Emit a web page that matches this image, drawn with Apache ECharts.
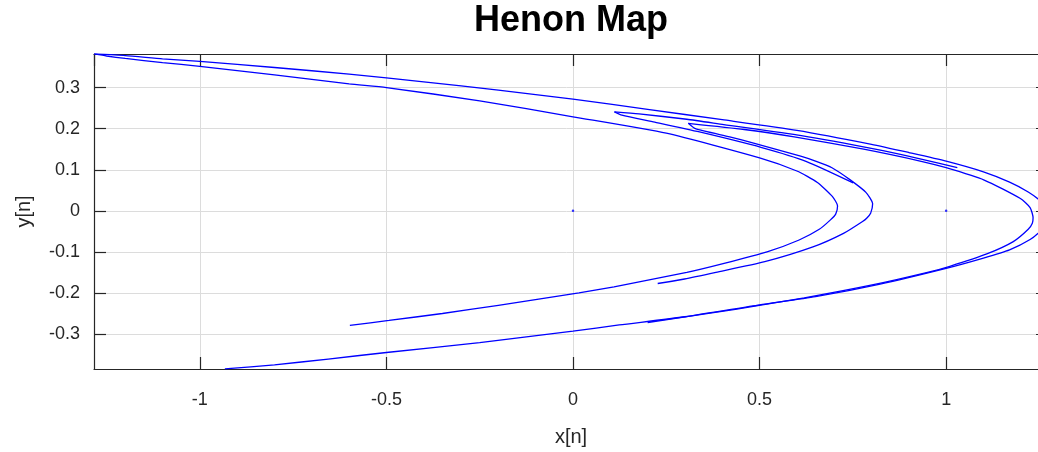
<!DOCTYPE html>
<html>
<head>
<meta charset="utf-8">
<title>Henon Map</title>
<script src="https://cdn.jsdelivr.net/npm/echarts@6/dist/echarts.min.js"></script>
<style>
html, body { margin: 0; padding: 0; background: #fff; }
#main { width: 1038px; height: 452px; }
</style>
</head>
<body>
<div id="main"></div>
<script>
// axis limits (tight to the attractor)
var xMin = -1.2837, xMax = 1.273
var yMin = -0.3852, yMax = 0.3819

// strands of the attractor as [x, y]
var outerCurve = [
  [-1.283, 0.382], [-1.2, 0.378], [-1.1, 0.370], [-1.0, 0.364], [-0.8, 0.349],
  [-0.6, 0.333], [-0.4, 0.314], [-0.2, 0.294], [0.0, 0.272], [0.2, 0.247],
  [0.4, 0.222], [0.6, 0.196], [0.8, 0.162], [0.9, 0.142], [1.0, 0.121],
  [1.1, 0.095], [1.17, 0.070], [1.22, 0.046], [1.255, 0.022], [1.270, 0.0],
  [1.273, -0.013], [1.268, -0.030], [1.255, -0.047], [1.225, -0.070], [1.17, -0.095],
  [1.1, -0.115], [1.0, -0.140], [0.82, -0.179], [0.65, -0.209], [0.5, -0.229],
  [0.3, -0.258], [0.124, -0.278], [0.0, -0.293], [-0.25, -0.321], [-0.5, -0.345],
  [-0.656, -0.361], [-0.8, -0.375], [-0.933, -0.385]
]
var secondOuter = [
  [0.309, 0.213], [0.459, 0.198], [0.593, 0.180], [0.779, 0.150], [0.936, 0.120],
  [1.0, 0.105], [1.102, 0.075], [1.199, 0.030], [1.225, 0.008], [1.233, -0.017],
  [1.231, -0.030], [1.22, -0.045], [1.18, -0.075], [1.109, -0.105], [1.01, -0.135],
  [0.95, -0.150], [0.805, -0.180], [0.62, -0.212], [0.435, -0.240], [0.2, -0.272]
]
var innerCurveA = [
  [-1.283, 0.382], [-1.25, 0.377], [-1.2, 0.371], [-1.1, 0.361], [-1.0, 0.352],
  [-0.8, 0.331], [-0.6, 0.309], [-0.5, 0.300], [-0.25, 0.268], [0.0, 0.229],
  [0.25, 0.189], [0.5, 0.129], [0.6, 0.097], [0.655, 0.069], [0.695, 0.035],
  [0.709, 0.012], [0.704, -0.008], [0.69, -0.022], [0.66, -0.045], [0.606, -0.071],
  [0.52, -0.100], [0.405, -0.128], [0.305, -0.150], [0.11, -0.185], [0.016, -0.200],
  [-0.2, -0.230], [-0.35, -0.250], [-0.493, -0.267], [-0.598, -0.279]
]
var innerCurveB = [
  [0.309, 0.213], [0.328, 0.200], [0.42, 0.180], [0.484, 0.165], [0.61, 0.133],
  [0.65, 0.121], [0.694, 0.105], [0.742, 0.076], [0.785, 0.045], [0.803, 0.017],
  [0.798, -0.005], [0.787, -0.018], [0.776, -0.026], [0.725, -0.055], [0.643, -0.088],
  [0.514, -0.124], [0.383, -0.150], [0.299, -0.166], [0.227, -0.177]
]
var hookUpper = [
  [0.111, 0.241], [0.177, 0.236], [0.305, 0.223], [0.404, 0.210], [0.612, 0.183],
  [0.81, 0.150], [0.933, 0.126], [1.03, 0.105]
]
var hookLower = [
  [0.111, 0.241], [0.131, 0.233], [0.219, 0.216], [0.339, 0.192], [0.506, 0.154],
  [0.626, 0.120], [0.751, 0.068]
]
var seedPoints = [[0, 0], [1, 0]]

var font = "'Liberation Sans', Arial, Helvetica, sans-serif"
var axisColor = '#262626'

function strand(name, data) {
  return {
    name: name,
    type: 'line',
    data: data,
    showSymbol: false,
    smooth: 0.2,
    silent: true,
    lineStyle: { color: '#0000ff', width: 1.3 }
  }
}

function xAxisOf(pos, main) {
  return {
    type: 'value',
    position: pos,
    min: xMin,
    max: xMax,
    minInterval: 0.5,
    maxInterval: 0.5,
    name: main ? 'x[n]' : '',
    nameLocation: 'middle',
    nameGap: 58,
    nameTextStyle: { fontFamily: font, fontSize: 20, color: axisColor },
    axisLine: { show: true, onZero: false, lineStyle: { color: axisColor, width: 1.2 } },
    axisTick: { show: true, inside: true, length: 12, lineStyle: { color: axisColor, width: 1.2 } },
    axisLabel: {
      show: main, fontFamily: font, fontSize: 18, color: axisColor, margin: 22,
      showMinLabel: false, showMaxLabel: false
    },
    splitLine: { show: main, lineStyle: { color: '#dcdcdc', width: 1 } }
  }
}

function yAxisOf(pos, main) {
  return {
    type: 'value',
    position: pos,
    min: yMin,
    max: yMax,
    minInterval: 0.1,
    maxInterval: 0.1,
    name: main ? 'y[n]' : '',
    nameLocation: 'middle',
    nameGap: 60,
    nameTextStyle: { fontFamily: font, fontSize: 20, color: axisColor },
    axisLine: { show: main, onZero: false, lineStyle: { color: axisColor, width: 1.2 } },
    axisTick: { show: true, inside: true, length: 12, lineStyle: { color: axisColor, width: 1.2 } },
    axisLabel: {
      show: main, fontFamily: font, fontSize: 18, color: axisColor, margin: 14,
      showMinLabel: false, showMaxLabel: false
    },
    splitLine: { show: main, lineStyle: { color: '#dcdcdc', width: 1 } }
  }
}

var myChart = echarts.init(document.getElementById('main'))
myChart.setOption({
  animation: false,
  backgroundColor: '#ffffff',
  title: {
    text: 'Henon Map',
    left: 571,
    top: 3,
    padding: 0,
    textAlign: 'center',
    textStyle: { fontFamily: font, fontSize: 36, fontWeight: 'bold', color: '#000' }
  },
  grid: {
    left: 94,
    right: -10,
    top: 54,
    bottom: 83,
    containLabel: false,
    outerBoundsMode: 'none'
  },
  xAxis: [xAxisOf('bottom', true), xAxisOf('top', false)],
  yAxis: [yAxisOf('left', true), yAxisOf('right', false)],
  series: [
    strand('outer', outerCurve),
    strand('second', secondOuter),
    strand('innerA', innerCurveA),
    strand('innerB', innerCurveB),
    strand('hookUpper', hookUpper),
    strand('hookLower', hookLower),
    {
      name: 'seed',
      type: 'scatter',
      data: seedPoints,
      symbolSize: 2.5,
      silent: true,
      itemStyle: { color: '#0000ff' }
    }
  ]
})

window.addEventListener('resize', function() {
  myChart.resize()
})
</script>
</body>
</html>
